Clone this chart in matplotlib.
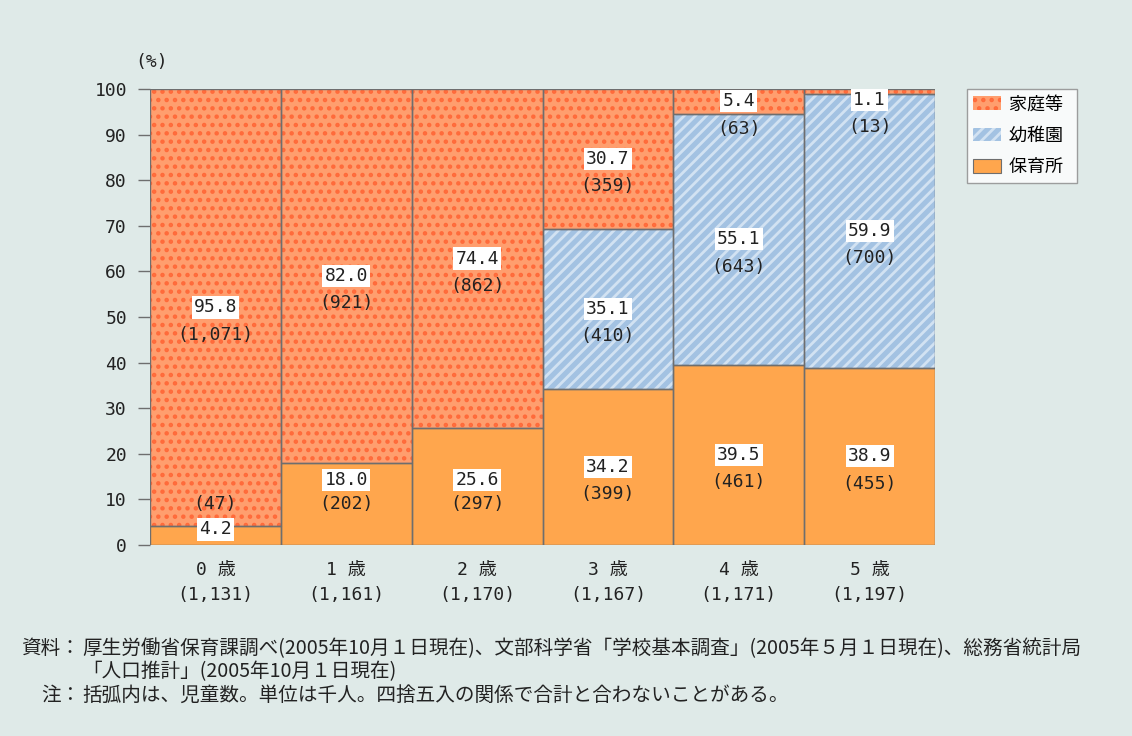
import numpy as np
import matplotlib.pyplot as plt
from matplotlib.patches import Patch

plt.rcParams['font.family'] = ['Noto Sans CJK JP', 'DejaVu Sans']

ages = ['0 歳', '1 歳', '2 歳', '3 歳', '4 歳', '5 歳']
totals = ['(1,131)', '(1,161)', '(1,170)', '(1,167)', '(1,171)', '(1,197)']

hoiku = [4.2, 18.0, 25.6, 34.2, 39.5, 38.9]
hoiku_n = ['(47)', '(202)', '(297)', '(399)', '(461)', '(455)']
youchi = [0, 0, 0, 35.1, 55.1, 59.9]
youchi_n = ['', '', '', '(410)', '(643)', '(700)']
katei = [95.8, 82.0, 74.4, 30.7, 5.4, 1.1]
katei_n = ['(1,071)', '(921)', '(862)', '(359)', '(63)', '(13)']

bg = '#dfeae8'
c_hoiku = '#ffa64d'
c_katei = '#ff9e6e'
c_katei_dot = '#ff6a3a'
c_youchi = '#a3c2e2'
c_youchi_line = '#d2e2f2'
edge = '#6e6e6e'
txt = '#222222'

num_font = ['DejaVu Sans Mono', 'Noto Sans CJK JP']
fs = 13

plt.rcParams['hatch.linewidth'] = 2.0

fig = plt.figure(figsize=(11.32, 7.36), dpi=100, facecolor=bg)
ax = fig.add_axes([150/1132, 1-545/736, 785/1132, 456/736])
ax.set_facecolor(bg)

x = np.arange(len(ages))
b0 = np.zeros(len(ages))
b1 = np.array(hoiku)
b2 = b1 + np.array(youchi)

# fills first (hatch colour follows edgecolor), outlines drawn on top
ax.bar(x, hoiku, width=1.0, bottom=b0, color=c_hoiku, linewidth=0)
ax.bar(x, youchi, width=1.0, bottom=b1, color=c_youchi, edgecolor=c_youchi_line,
       hatch='///', linewidth=0)
ax.bar(x, katei, width=1.0, bottom=b2, color=c_katei, edgecolor=c_katei_dot,
       hatch='..', linewidth=0)
for vals, bot in [(hoiku, b0), (youchi, b1), (katei, b2)]:
    v = np.array(vals)
    ax.bar(x[v > 0], v[v > 0], width=1.0, bottom=bot[v > 0], fill=False,
           edgecolor=edge, linewidth=1.0)

box = dict(facecolor='white', edgecolor='none', pad=1.5)

def put(i, bottom, h, val, cnt):
    if h <= 0:
        return
    c = bottom + h / 2
    if h < 5 and bottom == 0:
        vy = 3.4
        cy = vy + 5.5
    else:
        vy = min(c, 97.6)
        cy = vy - 6
        if bottom == 0 and cy < 9:
            cy = 9
            vy = cy + 5.3
    ax.text(i, vy, f'{val:.1f}', ha='center', va='center', fontsize=fs,
            family=num_font, color=txt, bbox=box)
    ax.text(i, cy, cnt, ha='center', va='center', fontsize=fs,
            family=num_font, color=txt)

for i in range(len(ages)):
    put(i, b0[i], hoiku[i], hoiku[i], hoiku_n[i])
    put(i, b1[i], youchi[i], youchi[i], youchi_n[i])
    put(i, b2[i], katei[i], katei[i], katei_n[i])

ax.set_xlim(-0.5, 5.5)
ax.set_ylim(0, 100)
ax.set_yticks(range(0, 101, 10))
ax.tick_params(axis='y', length=8.6, width=1, color=edge, pad=8.0, labelsize=fs,
               labelcolor=txt)
for lab in ax.get_yticklabels():
    lab.set_family(num_font)
ax.set_xticks(x)
ax.set_xticklabels([])
ax.tick_params(axis='x', length=0)
for s in ax.spines.values():
    s.set_visible(False)

tr = ax.get_xaxis_transform()
for i in range(len(ages)):
    ax.text(x[i], -25/456, ages[i], transform=tr, ha='center', va='center',
            fontsize=fs, family=num_font, color=txt)
    ax.text(x[i], -50/456, totals[i], transform=tr, ha='center', va='center',
            fontsize=fs, family=num_font, color=txt)

fig.text(152/1132, 1-62/736, '(%)', ha='center', va='center', fontsize=fs,
         family=num_font, color=txt)

handles = [
    Patch(facecolor=c_katei, edgecolor=c_katei_dot, hatch='..', linewidth=0),
    Patch(facecolor=c_youchi, edgecolor=c_youchi_line, hatch='///', linewidth=0),
    Patch(facecolor=c_hoiku, edgecolor=edge, linewidth=0.8),
]
leg = fig.legend(handles, ['家庭等  ', '幼稚園  ', '保育所  '], loc='upper left',
                 bbox_to_anchor=(967/1132, 1-89/736), fontsize=13,
                 frameon=True, fancybox=False, edgecolor='#888888',
                 facecolor='white', handlelength=1.55, handleheight=0.75,
                 handletextpad=0.4, labelspacing=0.75, borderpad=0.35,
                 borderaxespad=0)
leg.get_frame().set_linewidth(1.0)

notes_fs = 14.1
fig.text(80/1132, 1-649/736, '資料：', ha='right', va='center', fontsize=notes_fs,
         color=txt)
fig.text(82/1132, 1-649/736,
         '厚生労働省保育課調べ(2005年10月１日現在)、文部科学省「学校基本調査」(2005年５月１日現在)、総務省統計局',
         ha='left', va='center', fontsize=notes_fs, color=txt)
fig.text(82/1132, 1-672/736, '「人口推計」(2005年10月１日現在)', ha='left',
         va='center', fontsize=notes_fs, color=txt)
fig.text(80/1132, 1-695/736, '注：', ha='right', va='center', fontsize=notes_fs,
         color=txt)
fig.text(82/1132, 1-695/736,
         '括弧内は、児童数。単位は千人。四捨五入の関係で合計と合わないことがある。',
         ha='left', va='center', fontsize=notes_fs, color=txt)

fig.savefig('out.png', dpi=100, facecolor=bg)
